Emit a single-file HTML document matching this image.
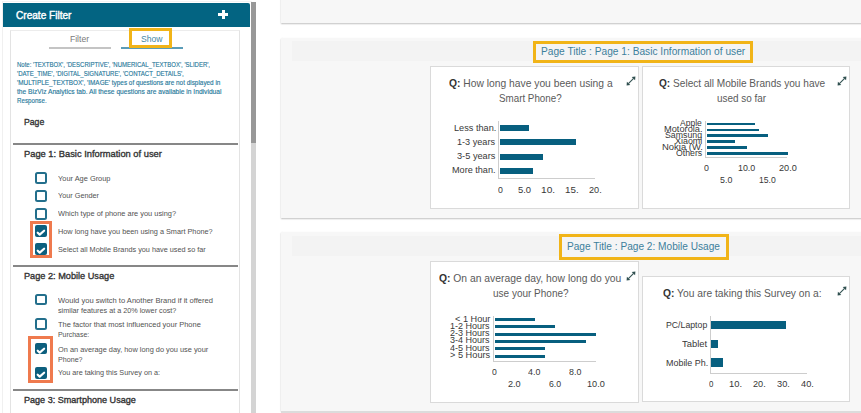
<!DOCTYPE html>
<html><head><meta charset="utf-8">
<style>
html,body{margin:0;padding:0;}
body{width:861px;height:413px;overflow:hidden;position:relative;background:#fff;font-family:"Liberation Sans",sans-serif;}
div{box-sizing:border-box;}
.a{position:absolute;}
.t{position:absolute;white-space:nowrap;line-height:0;transform-origin:0 0;font-family:"Liberation Sans",sans-serif;}
.t b{font-weight:700;color:#333;}
.cb{position:absolute;left:35px;width:12px;height:12px;border:2px solid #236f8c;border-radius:2.5px;background:#fff;}
.ck{position:absolute;left:35px;width:12px;height:12px;border-radius:2px;background:#0c5f7e;}
.ck svg{position:absolute;left:0;top:0;}
.sep{position:absolute;left:13px;width:225px;height:2px;background:#878787;}
.panel{position:absolute;left:281px;width:590px;background:#f7f7f7;box-shadow:0 1px 1.5px rgba(0,0,0,.24),-0.5px 0 1px rgba(0,0,0,.08);}
.band{position:absolute;left:292px;width:580px;background:#f3f3f3;}
.title{position:absolute;border:3px solid #f1b418;background:#f4f4f5;}
.chart{position:absolute;background:#fff;border:1px solid #dadada;}
.bar{position:absolute;background:#075f7f;}
.ax{position:absolute;background:#cdcdcd;}
.ex{position:absolute;width:10px;height:10px;}
</style></head><body>
<!-- sidebar -->
<div class="a" style="left:2px;top:1px;width:250px;height:420px;border-left:1px solid #f0f0f0;border-top:1px solid #f3f3f3;"></div>
<div class="a" style="left:3px;top:3px;width:247px;height:24px;background:#036482;border-top-right-radius:2px;"></div>
<div class="a" style="left:218px;top:13.3px;width:10px;height:3px;background:#fff;"></div>
<div class="a" style="left:221.5px;top:10px;width:3px;height:9.3px;background:#fff;"></div>
<div class="a" style="left:10px;top:30px;width:230px;height:400px;border:1px solid #e3e3e3;border-top-color:#ececec;background:#fff;"></div>
<div class="a" style="left:49px;top:47px;width:61.5px;height:1.6px;background:#c4c4c4;"></div>
<div class="a" style="left:121px;top:47px;width:62px;height:1.6px;background:#5a9cb8;"></div>
<div class="a" style="left:129px;top:28px;width:43px;height:20px;border:3px solid #f1b418;background:#fff;"></div>

<div class="sep" style="top:143px;height:1.8px;"></div>
<div class="sep" style="top:264.8px;height:1.8px;"></div>
<div class="sep" style="top:389.2px;height:1.8px;"></div>

<div class="cb" style="top:172px;"></div>
<div class="cb" style="top:190px;"></div>
<div class="cb" style="top:207.5px;"></div>
<div class="ck" style="top:225px;"><svg width="12" height="12" viewBox="0 0 12 12"><polyline points="2.7,7.7 4.7,9.6 9.1,5.7" fill="none" stroke="#fff" stroke-width="2.2" stroke-linecap="round" stroke-linejoin="round"/></svg></div>
<div class="ck" style="top:243px;"><svg width="12" height="12" viewBox="0 0 12 12"><polyline points="2.7,7.7 4.7,9.6 9.1,5.7" fill="none" stroke="#fff" stroke-width="2.2" stroke-linecap="round" stroke-linejoin="round"/></svg></div>
<div class="a" style="left:30px;top:221.3px;width:22px;height:37px;border:3px solid #ef7a4e;"></div>

<div class="cb" style="top:293.7px;height:11.5px;"></div>
<div class="cb" style="top:318px;height:11.5px;"></div>
<div class="ck" style="top:342.8px;height:11.5px;"><svg width="12" height="12" viewBox="0 0 12 12"><polyline points="2.7,7.7 4.7,9.6 9.1,5.7" fill="none" stroke="#fff" stroke-width="2.2" stroke-linecap="round" stroke-linejoin="round"/></svg></div>
<div class="ck" style="top:367.1px;height:11.5px;"><svg width="12" height="12" viewBox="0 0 12 12"><polyline points="2.7,7.7 4.7,9.6 9.1,5.7" fill="none" stroke="#fff" stroke-width="2.2" stroke-linecap="round" stroke-linejoin="round"/></svg></div>
<div class="a" style="left:28px;top:335.8px;width:25.2px;height:47px;border:3px solid #ef7a4e;"></div>

<div class="a" style="left:251px;top:2px;width:5px;height:411px;background:#d4d4d4;"></div>
<div class="a" style="left:251px;top:2px;width:5px;height:141px;background:#989898;"></div>

<!-- right -->
<div class="panel" style="top:-10px;height:33px;"></div>
<div class="panel" style="top:37.5px;height:180.5px;"></div>
<div class="band" style="top:40.5px;height:20.5px;"></div>
<div class="title" style="left:533px;top:41px;width:219.5px;height:22px;"></div>
<div class="chart" style="left:430px;top:66px;width:208.8px;height:143px;"></div>
<div class="chart" style="left:642px;top:66px;width:208.2px;height:143px;"></div>

<div class="panel" style="top:232px;height:178.5px;"></div>
<div class="a" style="left:281px;top:410.5px;width:590px;height:3px;background:#dcdcdc;"></div>
<div class="band" style="top:236px;height:19.5px;"></div>
<div class="title" style="left:558.6px;top:233.8px;width:170px;height:26px;border-width:3px;"></div>
<div class="chart" style="left:430.3px;top:260.5px;width:208.5px;height:142px;"></div>
<div class="chart" style="left:642.2px;top:275.8px;width:208px;height:126.6px;"></div>

<!-- chart 1 -->
<div class="ax" style="left:498.3px;top:121px;width:1px;height:57.5px;"></div>
<div class="ax" style="left:498.3px;top:177.5px;width:97px;height:1px;"></div>
<div class="bar" style="left:500px;top:125px;width:28.5px;height:6px;"></div>
<div class="bar" style="left:500px;top:139.3px;width:76.2px;height:6px;"></div>
<div class="bar" style="left:500px;top:153.5px;width:43px;height:6px;"></div>
<div class="bar" style="left:500px;top:168px;width:33.2px;height:6px;"></div>
<!-- chart 2 -->
<div class="ax" style="left:705.3px;top:120.5px;width:1px;height:37px;"></div>
<div class="ax" style="left:705.3px;top:156.5px;width:82px;height:1px;"></div>
<div class="bar" style="left:706.5px;top:122.6px;width:48.7px;height:2.6px;"></div>
<div class="bar" style="left:706.5px;top:128.5px;width:52.5px;height:2.6px;"></div>
<div class="bar" style="left:706.5px;top:134.4px;width:61px;height:2.6px;"></div>
<div class="bar" style="left:706.5px;top:140.4px;width:28.3px;height:2.6px;"></div>
<div class="bar" style="left:706.5px;top:146.2px;width:40.5px;height:2.6px;"></div>
<div class="bar" style="left:706.5px;top:152.2px;width:81.3px;height:2.6px;"></div>
<!-- chart 3 -->
<div class="ax" style="left:493px;top:316px;width:1px;height:45.5px;"></div>
<div class="ax" style="left:493px;top:361px;width:103px;height:1px;"></div>
<div class="bar" style="left:494.5px;top:317.6px;width:40.3px;height:3px;"></div>
<div class="bar" style="left:494.5px;top:325px;width:60.4px;height:3px;"></div>
<div class="bar" style="left:494.5px;top:332.5px;width:101px;height:3px;"></div>
<div class="bar" style="left:494.5px;top:339.9px;width:91px;height:3px;"></div>
<div class="bar" style="left:494.5px;top:347.4px;width:50.4px;height:3px;"></div>
<div class="bar" style="left:494.5px;top:354.8px;width:50.4px;height:3px;"></div>
<!-- chart 4 -->
<div class="ax" style="left:710px;top:316px;width:1px;height:57px;"></div>
<div class="ax" style="left:710px;top:372.5px;width:97px;height:1px;"></div>
<div class="bar" style="left:711px;top:320.7px;width:74.5px;height:8.4px;"></div>
<div class="bar" style="left:711px;top:339.5px;width:7.3px;height:8.5px;"></div>
<div class="bar" style="left:711px;top:358.4px;width:11.8px;height:8.5px;"></div>

<!-- expand icons -->
<svg class="ex" style="left:625.5px;top:76px;" viewBox="0 0 10 10"><path d="M2.4,7.6 L7.6,2.4" stroke="#2f4f4f" stroke-width="1.1"/><path d="M9.4,0.6 L9.1,4.3 L5.7,0.9Z M0.6,9.4 L0.9,5.7 L4.3,9.1Z" fill="#2f4f4f"/></svg>
<svg class="ex" style="left:836.8px;top:76px;" viewBox="0 0 10 10"><path d="M2.4,7.6 L7.6,2.4" stroke="#2f4f4f" stroke-width="1.1"/><path d="M9.4,0.6 L9.1,4.3 L5.7,0.9Z M0.6,9.4 L0.9,5.7 L4.3,9.1Z" fill="#2f4f4f"/></svg>
<svg class="ex" style="left:625.6px;top:271px;" viewBox="0 0 10 10"><path d="M2.4,7.6 L7.6,2.4" stroke="#2f4f4f" stroke-width="1.1"/><path d="M9.4,0.6 L9.1,4.3 L5.7,0.9Z M0.6,9.4 L0.9,5.7 L4.3,9.1Z" fill="#2f4f4f"/></svg>
<svg class="ex" style="left:836.8px;top:285.6px;" viewBox="0 0 10 10"><path d="M2.4,7.6 L7.6,2.4" stroke="#2f4f4f" stroke-width="1.1"/><path d="M9.4,0.6 L9.1,4.3 L5.7,0.9Z M0.6,9.4 L0.9,5.7 L4.3,9.1Z" fill="#2f4f4f"/></svg>

<div class="t" style="left:15.60px;top:16px;font-size:10px;color:#ffffff;font-weight:400;transform:scaleX(1.0073);-webkit-text-stroke:0.4px #fff;">Create Filter</div>
<div class="t" style="left:70.40px;top:39px;font-size:9.5px;color:#7a7a7a;font-weight:400;transform:scaleX(0.9000);">Filter</div>
<div class="t" style="left:141.00px;top:39px;font-size:9.5px;color:#3f87a5;font-weight:400;transform:scaleX(0.9042);">Show</div>
<div class="t" style="left:16.60px;top:65px;font-size:7.5px;color:#28799b;font-weight:400;transform:scaleX(0.7992);-webkit-text-stroke:0.15px #28799b;">Note: 'TEXTBOX', 'DESCRIPTIVE', 'NUMERICAL_TEXTBOX', 'SLIDER',</div>
<div class="t" style="left:16.60px;top:74px;font-size:7.5px;color:#28799b;font-weight:400;transform:scaleX(0.8053);-webkit-text-stroke:0.15px #28799b;">'DATE_TIME', 'DIGITAL_SIGNATURE', 'CONTACT_DETAILS',</div>
<div class="t" style="left:16.60px;top:83px;font-size:7.5px;color:#28799b;font-weight:400;transform:scaleX(0.8510);-webkit-text-stroke:0.15px #28799b;">'MULTIPLE_TEXTBOX', 'IMAGE' types of questions are not displayed in</div>
<div class="t" style="left:16.60px;top:92px;font-size:7.5px;color:#28799b;font-weight:400;transform:scaleX(0.8874);-webkit-text-stroke:0.15px #28799b;">the BizViz Analytics tab. All these questions are available in Individual</div>
<div class="t" style="left:16.60px;top:101px;font-size:7.5px;color:#28799b;font-weight:400;transform:scaleX(0.8257);-webkit-text-stroke:0.15px #28799b;">Response.</div>
<div class="t" style="left:24.30px;top:122px;font-size:9.5px;color:#333333;font-weight:400;transform:scaleX(0.9136);-webkit-text-stroke:0.35px #333;">Page</div>
<div class="t" style="left:24.30px;top:154px;font-size:9.5px;color:#333333;font-weight:400;transform:scaleX(0.9816);-webkit-text-stroke:0.35px #333;">Page 1: Basic Information of user</div>
<div class="t" style="left:57.60px;top:179px;font-size:7.5px;color:#525252;font-weight:400;transform:scaleX(0.9887);">Your Age Group</div>
<div class="t" style="left:57.60px;top:196px;font-size:7.5px;color:#525252;font-weight:400;transform:scaleX(0.9714);">Your Gender</div>
<div class="t" style="left:57.60px;top:214px;font-size:7.5px;color:#525252;font-weight:400;transform:scaleX(0.9867);">Which type of phone are you using?</div>
<div class="t" style="left:57.60px;top:232px;font-size:7.5px;color:#525252;font-weight:400;transform:scaleX(0.9736);">How long have you been using a Smart Phone?</div>
<div class="t" style="left:57.60px;top:250px;font-size:7.5px;color:#525252;font-weight:400;transform:scaleX(0.9711);">Select all Mobile Brands you have used so far</div>
<div class="t" style="left:24.10px;top:276px;font-size:9.5px;color:#333333;font-weight:400;transform:scaleX(0.9656);-webkit-text-stroke:0.35px #333;">Page 2: Mobile Usage</div>
<div class="t" style="left:57.60px;top:301px;font-size:7.5px;color:#525252;font-weight:400;transform:scaleX(1.0091);">Would you switch to Another Brand if it offered</div>
<div class="t" style="left:57.60px;top:311px;font-size:7.5px;color:#525252;font-weight:400;transform:scaleX(0.9659);">similar features at a 20% lower cost?</div>
<div class="t" style="left:57.60px;top:325px;font-size:7.5px;color:#525252;font-weight:400;transform:scaleX(0.9958);">The factor that most influenced your Phone</div>
<div class="t" style="left:57.60px;top:335px;font-size:7.5px;color:#525252;font-weight:400;transform:scaleX(0.9242);">Purchase:</div>
<div class="t" style="left:57.60px;top:350px;font-size:7.5px;color:#525252;font-weight:400;transform:scaleX(0.9830);">On an average day, how long do you use your</div>
<div class="t" style="left:57.60px;top:360px;font-size:7.5px;color:#525252;font-weight:400;transform:scaleX(0.9500);">Phone?</div>
<div class="t" style="left:57.60px;top:373px;font-size:7.5px;color:#525252;font-weight:400;transform:scaleX(0.9657);">You are taking this Survey on a:</div>
<div class="t" style="left:24.10px;top:400px;font-size:9.0px;color:#333333;font-weight:400;transform:scaleX(1.0063);-webkit-text-stroke:0.35px #333;">Page 3: Smartphone Usage</div>
<div class="t" style="left:541.38px;top:51px;font-size:11.0px;color:#3d7f9c;font-weight:400;transform:scaleX(0.9250);">Page Title : Page 1: Basic Information of user</div>
<div class="t" style="left:567.38px;top:246px;font-size:11.0px;color:#3d7f9c;font-weight:400;transform:scaleX(0.9194);">Page Title : Page 2: Mobile Usage</div>
<div class="t" style="left:448.80px;top:83px;font-size:10.5px;color:#5a5a5a;font-weight:400;transform:scaleX(0.9802);"><b>Q:</b> How long have you been using a</div>
<div class="t" style="left:499.20px;top:98px;font-size:10.5px;color:#5a5a5a;font-weight:400;transform:scaleX(0.9328);">Smart Phone?</div>
<div class="t" style="left:658.80px;top:83px;font-size:10.5px;color:#5a5a5a;font-weight:400;transform:scaleX(0.9618);"><b>Q:</b> Select all Mobile Brands you have</div>
<div class="t" style="left:717.30px;top:98px;font-size:10.5px;color:#5a5a5a;font-weight:400;transform:scaleX(0.9462);">used so far</div>
<div class="t" style="left:439.30px;top:278px;font-size:11.5px;color:#5a5a5a;font-weight:400;transform:scaleX(0.8975);"><b>Q:</b> On an average day, how long do you</div>
<div class="t" style="left:492.90px;top:293px;font-size:11.0px;color:#5a5a5a;font-weight:400;transform:scaleX(0.9084);">use your Phone?</div>
<div class="t" style="left:662.70px;top:293px;font-size:11.5px;color:#5a5a5a;font-weight:400;transform:scaleX(0.8927);"><b>Q:</b> You are taking this Survey on a:</div>
<div class="t" style="left:454.10px;top:128px;font-size:9.0px;color:#383838;font-weight:400;transform:scaleX(1.0195);">Less than.</div>
<div class="t" style="left:457.40px;top:142px;font-size:9.0px;color:#383838;font-weight:400;transform:scaleX(1.0132);">1-3 years</div>
<div class="t" style="left:457.00px;top:156px;font-size:9.0px;color:#383838;font-weight:400;transform:scaleX(1.0237);">3-5 years</div>
<div class="t" style="left:452.40px;top:170px;font-size:9.0px;color:#383838;font-weight:400;transform:scaleX(1.0116);">More than.</div>
<div class="t" style="left:497.70px;top:190px;font-size:9.5px;color:#383838;font-weight:400;transform:scaleX(0.9200);">0</div>
<div class="t" style="left:517.50px;top:190px;font-size:9.5px;color:#383838;font-weight:400;transform:scaleX(0.9923);">5.0</div>
<div class="t" style="left:540.53px;top:190px;font-size:9.5px;color:#383838;font-weight:400;transform:scaleX(1.0667);">10.</div>
<div class="t" style="left:564.67px;top:190px;font-size:9.5px;color:#383838;font-weight:400;transform:scaleX(1.0333);">15.</div>
<div class="t" style="left:589.00px;top:190px;font-size:9.5px;color:#383838;font-weight:400;transform:scaleX(0.9615);">20.</div>
<div class="t" style="left:680.30px;top:123px;font-size:8.5px;color:#383838;font-weight:400;transform:scaleX(1.0045);">Apple</div>
<div class="t" style="left:664.30px;top:129px;font-size:8.5px;color:#383838;font-weight:400;transform:scaleX(1.0886);">Motorola.</div>
<div class="t" style="left:665.30px;top:135px;font-size:8.5px;color:#383838;font-weight:400;transform:scaleX(1.0306);">Samsung</div>
<div class="t" style="left:675.10px;top:141px;font-size:8.5px;color:#383838;font-weight:400;transform:scaleX(1.0500);">Xiaomi</div>
<div class="t" style="left:662.40px;top:147px;font-size:8.5px;color:#383838;font-weight:400;transform:scaleX(1.1111);">Nokia (W.</div>
<div class="t" style="left:675.70px;top:153px;font-size:8.5px;color:#383838;font-weight:400;transform:scaleX(1.0269);">Others</div>
<div class="t" style="left:703.90px;top:168px;font-size:9.0px;color:#383838;font-weight:400;transform:scaleX(0.9800);">0</div>
<div class="t" style="left:738.40px;top:168px;font-size:9.0px;color:#383838;font-weight:400;transform:scaleX(0.9833);">10.0</div>
<div class="t" style="left:778.70px;top:168px;font-size:9.0px;color:#383838;font-weight:400;transform:scaleX(1.0167);">20.0</div>
<div class="t" style="left:720.30px;top:180px;font-size:9.0px;color:#383838;font-weight:400;transform:scaleX(0.9846);">5.0</div>
<div class="t" style="left:758.90px;top:180px;font-size:9.0px;color:#383838;font-weight:400;transform:scaleX(0.9556);">15.0</div>
<div class="t" style="left:454.60px;top:319px;font-size:9.0px;color:#383838;font-weight:400;transform:scaleX(1.0171);">&lt; 1 Hour</div>
<div class="t" style="left:450.10px;top:326px;font-size:9.0px;color:#383838;font-weight:400;transform:scaleX(1.0025);">1-2 Hours</div>
<div class="t" style="left:450.10px;top:333px;font-size:9.0px;color:#383838;font-weight:400;transform:scaleX(1.0025);">2-3 Hours</div>
<div class="t" style="left:450.10px;top:340px;font-size:9.0px;color:#383838;font-weight:400;transform:scaleX(1.0025);">3-4 Hours</div>
<div class="t" style="left:450.10px;top:348px;font-size:9.0px;color:#383838;font-weight:400;transform:scaleX(1.0025);">4-5 Hours</div>
<div class="t" style="left:450.30px;top:355px;font-size:9.0px;color:#383838;font-weight:400;transform:scaleX(1.0231);">&gt; 5 Hours</div>
<div class="t" style="left:492.00px;top:372px;font-size:9.0px;color:#383838;font-weight:400;transform:scaleX(0.9600);">0</div>
<div class="t" style="left:528.20px;top:372px;font-size:9.0px;color:#383838;font-weight:400;transform:scaleX(0.9846);">4.0</div>
<div class="t" style="left:568.60px;top:372px;font-size:9.0px;color:#383838;font-weight:400;transform:scaleX(0.9846);">8.0</div>
<div class="t" style="left:508.00px;top:384px;font-size:9.0px;color:#383838;font-weight:400;transform:scaleX(1.0154);">2.0</div>
<div class="t" style="left:548.80px;top:384px;font-size:9.0px;color:#383838;font-weight:400;transform:scaleX(0.9692);">6.0</div>
<div class="t" style="left:586.70px;top:384px;font-size:9.0px;color:#383838;font-weight:400;transform:scaleX(1.0167);">10.0</div>
<div class="t" style="left:665.50px;top:325px;font-size:9.0px;color:#383838;font-weight:400;transform:scaleX(0.9698);">PC/Laptop</div>
<div class="t" style="left:682.10px;top:344px;font-size:9.0px;color:#383838;font-weight:400;transform:scaleX(1.0458);">Tablet</div>
<div class="t" style="left:665.50px;top:363px;font-size:9.0px;color:#383838;font-weight:400;transform:scaleX(0.9929);">Mobile Ph.</div>
<div class="t" style="left:709.10px;top:384px;font-size:9.0px;color:#383838;font-weight:400;transform:scaleX(0.8800);">0</div>
<div class="t" style="left:729.00px;top:384px;font-size:9.0px;color:#383838;font-weight:400;transform:scaleX(1.0417);">10.</div>
<div class="t" style="left:753.00px;top:384px;font-size:9.0px;color:#383838;font-weight:400;transform:scaleX(1.0167);">20.</div>
<div class="t" style="left:776.90px;top:384px;font-size:9.0px;color:#383838;font-weight:400;transform:scaleX(1.0250);">30.</div>
<div class="t" style="left:800.60px;top:384px;font-size:9.0px;color:#383838;font-weight:400;transform:scaleX(1.0250);">40.</div>
</body></html>
